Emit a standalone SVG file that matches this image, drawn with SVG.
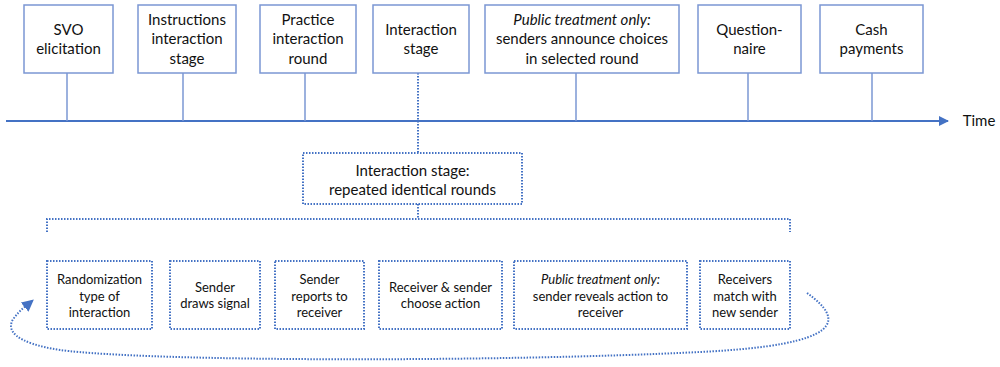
<svg xmlns="http://www.w3.org/2000/svg" width="1000" height="367" viewBox="0 0 1000 367">
<defs>
<style>
.box{fill:#fff;stroke:#7b97d3;stroke-width:1.5}
.dbox{fill:#fff;stroke:#4472c4;stroke-width:2;stroke-dasharray:1.5 1.5}
.tick{stroke:#7b97d3;stroke-width:1.5;fill:none}
.dot{stroke:#4472c4;stroke-width:2;stroke-dasharray:1.5 1.5;fill:none}
.t{font-family:Lato,"Open Sans",sans-serif;font-size:15px;fill:#111;text-anchor:middle}
.s{font-family:Lato,"Open Sans",sans-serif;font-size:13px;fill:#111;text-anchor:middle}
</style>
<marker id="ah" viewBox="0 0 10 10" refX="9" refY="5" markerWidth="10" markerHeight="10" markerUnits="userSpaceOnUse" orient="auto">
<path d="M0,0 L10,5 L0,10 z" fill="#4472c4"/>
</marker>
<marker id="ah2" viewBox="0 0 10 10" refX="8" refY="5" markerWidth="12" markerHeight="12" markerUnits="userSpaceOnUse" orient="auto">
<path d="M0,0 L10,5 L0,10 z" fill="#4472c4"/>
</marker>
</defs>
<g id="connectors">
<line x1="6" y1="121" x2="948" y2="121" stroke="#4472c4" stroke-width="2" marker-end="url(#ah)"/>
<line class="tick" x1="67" y1="73" x2="67" y2="121"/>
<line class="tick" x1="183" y1="73" x2="183" y2="121"/>
<line class="tick" x1="305" y1="73" x2="305" y2="121"/>
<line class="tick" x1="576" y1="73" x2="576" y2="121"/>
<line class="tick" x1="748" y1="73" x2="748" y2="121"/>
<line class="tick" x1="872" y1="73" x2="872" y2="121"/>
<line class="dot" x1="418" y1="73" x2="418" y2="153"/>
<line class="dot" x1="418" y1="204" x2="418" y2="219"/>
<path class="dot" d="M47,232 L47,219 L790,219 L790,232"/>
<path class="dot" d="M807,293 C845,320 845,345 700,352 C500,362 150,362 60,350 C15,343 5,330 14,318 C20,310 26,306 32,301" marker-end="url(#ah2)"/>
</g>
<g id="n-svo"><rect class="box" x="24" y="5" width="89" height="68"/><text class="t" x="68.5" y="35">SVO</text><text class="t" x="68.5" y="54">elicitation</text></g>
<g id="n-instr"><rect class="box" x="138" y="5" width="98" height="68"/><text class="t" x="187" y="25">Instructions</text><text class="t" x="187" y="44">interaction</text><text class="t" x="187" y="64">stage</text></g>
<g id="n-practice"><rect class="box" x="260" y="5" width="96" height="68"/><text class="t" x="308" y="25">Practice</text><text class="t" x="308" y="44">interaction</text><text class="t" x="308" y="64">round</text></g>
<g id="n-interaction"><rect class="box" x="373" y="5" width="96" height="68"/><text class="t" x="421" y="35">Interaction</text><text class="t" x="421" y="54">stage</text></g>
<g id="n-public"><rect class="box" x="485" y="5" width="194" height="68"/><text class="t" x="582" y="25" font-style="italic">Public treatment only:</text><text class="t" x="582" y="44">senders announce choices</text><text class="t" x="582" y="64">in selected round</text></g>
<g id="n-quest"><rect class="box" x="698" y="5" width="103" height="68"/><text class="t" x="749.5" y="35">Question-</text><text class="t" x="749.5" y="54">naire</text></g>
<g id="n-cash"><rect class="box" x="820" y="5" width="103" height="68"/><text class="t" x="871.5" y="35">Cash</text><text class="t" x="871.5" y="54">payments</text></g>
<text id="time" class="t" x="979" y="126">Time</text>
<g id="n-stage"><rect class="dbox" x="303" y="153" width="219" height="51"/><text class="t" x="412.5" y="176">Interaction stage:</text><text class="t" x="412.5" y="195">repeated identical rounds</text></g>
<g id="n-rand"><rect class="dbox" x="47" y="261" width="105" height="68"/><text class="s" x="99.5" y="284">Randomization</text><text class="s" x="99.5" y="301">type of</text><text class="s" x="99.5" y="317">interaction</text></g>
<g id="n-draws"><rect class="dbox" x="170" y="261" width="90" height="68"/><text class="s" x="215" y="292">Sender</text><text class="s" x="215" y="308">draws signal</text></g>
<g id="n-reports"><rect class="dbox" x="275" y="261" width="89" height="68"/><text class="s" x="319.5" y="284">Sender</text><text class="s" x="319.5" y="301">reports to</text><text class="s" x="319.5" y="317">receiver</text></g>
<g id="n-choose"><rect class="dbox" x="379" y="261" width="123" height="68"/><text class="s" x="440.5" y="292">Receiver &amp; sender</text><text class="s" x="440.5" y="308">choose action</text></g>
<g id="n-reveal"><rect class="dbox" x="514" y="261" width="173" height="68"/><text class="s" x="600.5" y="284" font-style="italic">Public treatment only:</text><text class="s" x="600.5" y="301">sender reveals action to</text><text class="s" x="600.5" y="317">receiver</text></g>
<g id="n-match"><rect class="dbox" x="700" y="261" width="90" height="68"/><text class="s" x="745" y="284">Receivers</text><text class="s" x="745" y="301">match with</text><text class="s" x="745" y="317">new sender</text></g>
</svg>
